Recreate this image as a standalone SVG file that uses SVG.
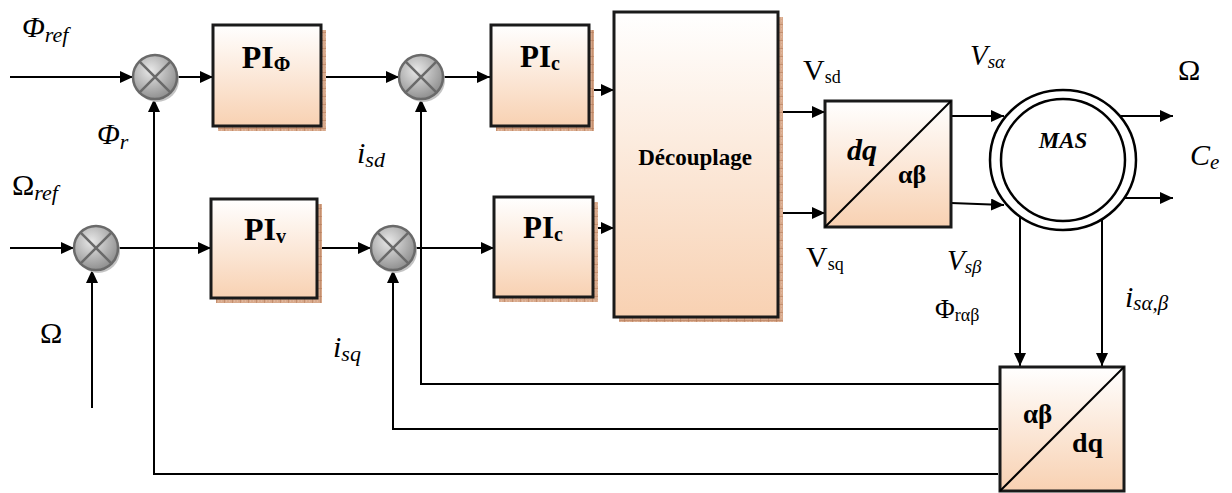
<svg xmlns="http://www.w3.org/2000/svg" width="1232" height="493" viewBox="0 0 1232 493">
<style>
.ln{fill:none;stroke:#000;stroke-width:2}
.bx{fill:url(#peach);stroke:#1a1a1a;stroke-width:3}
.sh{fill:url(#hatch)}
.t{font-family:"Liberation Serif","Times New Roman",serif;fill:#000}
.it{font-style:italic}
.b{font-weight:bold}
.sumc{fill:url(#gray);stroke:#6a6a6a;stroke-width:2.5}
.sumx{stroke:#6a6a6a;stroke-width:2.5}
.sums{fill:#c4c4c4}
</style>
<defs>
<linearGradient id="peach" x1="0" y1="0" x2="0" y2="1">
<stop offset="0" stop-color="#ffffff"/>
<stop offset="1" stop-color="#f8d1b2"/>
</linearGradient>
<radialGradient id="gray" cx="0.4" cy="0.35" r="0.7">
<stop offset="0" stop-color="#e8e8e8"/>
<stop offset="1" stop-color="#8a8a8a"/>
</radialGradient>
<pattern id="hatch" width="8" height="8" patternUnits="userSpaceOnUse">
<rect width="8" height="8" fill="#d8a98b"/>
<path d="M0,0 H8 M0,0 V8" stroke="#b07654" stroke-width="1"/>
<path d="M2,2 h1 M5,5 h1 M2,5 h1 M5,2 h1" stroke="#e8c4ad" stroke-width="1"/>
</pattern>
<marker id="ar" markerUnits="userSpaceOnUse" markerWidth="14" markerHeight="12" refX="13" refY="6" orient="auto">
<path d="M0,0 L13,6 L0,12 z" fill="#000"/>
</marker>
</defs>

<g id="connectors">
<path class="ln" d="M10,77 H133" marker-end="url(#ar)"/>
<path class="ln" d="M177,77 H213" marker-end="url(#ar)"/>
<path class="ln" d="M321,77 H399" marker-end="url(#ar)"/>
<path class="ln" d="M443,77 H490" marker-end="url(#ar)"/>
<path class="ln" d="M589,90 H614" marker-end="url(#ar)"/>
<path class="ln" d="M593,228 H614" marker-end="url(#ar)"/>
<path class="ln" d="M10,248 H74" marker-end="url(#ar)"/>
<path class="ln" d="M118,248 H211" marker-end="url(#ar)"/>
<path class="ln" d="M317,248 H371" marker-end="url(#ar)"/>
<path class="ln" d="M415,248 H494" marker-end="url(#ar)"/>
<path class="ln" d="M92,408 V270" marker-end="url(#ar)"/>
<path class="ln" d="M998,474 H154 V99" marker-end="url(#ar)"/>
<path class="ln" d="M998,429 H393 V270" marker-end="url(#ar)"/>
<path class="ln" d="M1000,384 H421 V99" marker-end="url(#ar)"/>
<path class="ln" d="M778,112 H825" marker-end="url(#ar)"/>
<path class="ln" d="M778,213 H825" marker-end="url(#ar)"/>
<path class="ln" d="M951,116 H1004" marker-end="url(#ar)"/>
<path class="ln" d="M951,203 L1004,205" marker-end="url(#ar)"/>
<path class="ln" d="M1121,116 H1173" marker-end="url(#ar)"/>
<path class="ln" d="M1123,198 H1173" marker-end="url(#ar)"/>
<path class="ln" d="M1020,217 V366" marker-end="url(#ar)"/>
<path class="ln" d="M1102,217 V366" marker-end="url(#ar)"/>
</g>

<g id="sum1">
<circle class="sums" cx="157" cy="80" r="22"/>
<circle class="sumc" cx="155" cy="77" r="22"/>
<path class="sumx" d="M139.4,61.4 L170.6,92.6 M170.6,61.4 L139.4,92.6"/>
</g>
<g id="sum2">
<circle class="sums" cx="98" cy="251" r="22"/>
<circle class="sumc" cx="96" cy="248" r="22"/>
<path class="sumx" d="M80.4,232.4 L111.6,263.6 M111.6,232.4 L80.4,263.6"/>
</g>
<g id="sum3">
<circle class="sums" cx="423" cy="80" r="22"/>
<circle class="sumc" cx="421" cy="77" r="22"/>
<path class="sumx" d="M405.4,61.4 L436.6,92.6 M436.6,61.4 L405.4,92.6"/>
</g>
<g id="sum4">
<circle class="sums" cx="395" cy="251" r="22"/>
<circle class="sumc" cx="393" cy="248" r="22"/>
<path class="sumx" d="M377.4,232.4 L408.6,263.6 M408.6,232.4 L377.4,263.6"/>
</g>

<g id="pi_phi">
<rect class="sh" x="218" y="30" width="108" height="101"/>
<rect class="bx" x="213" y="25" width="108" height="101"/>
<text class="t b" x="266" y="68" text-anchor="middle" font-size="32">PI<tspan font-size="20" dy="3">Φ</tspan></text>
</g>
<g id="pi_v">
<rect class="sh" x="216" y="204" width="106" height="99"/>
<rect class="bx" x="211" y="199" width="106" height="99"/>
<text class="t b" x="265" y="240" text-anchor="middle" font-size="32">PI<tspan font-size="20" dy="3">v</tspan></text>
</g>
<g id="pi_c1">
<rect class="sh" x="496" y="30" width="98" height="101"/>
<rect class="bx" x="491" y="25" width="98" height="101"/>
<text class="t b" x="540" y="67" text-anchor="middle" font-size="31">PI<tspan font-size="20" dy="3">c</tspan></text>
</g>
<g id="pi_c2">
<rect class="sh" x="499" y="202" width="99" height="100"/>
<rect class="bx" x="494" y="197" width="99" height="100"/>
<text class="t b" x="543" y="238" text-anchor="middle" font-size="31">PI<tspan font-size="20" dy="3">c</tspan></text>
</g>
<g id="decouplage">
<rect class="sh" x="619" y="17" width="164" height="305"/>
<rect class="bx" x="614" y="12" width="164" height="305"/>
<text class="t b" x="695" y="165" text-anchor="middle" font-size="23">Découplage</text>
</g>
<g id="dq_ab">
<rect class="bx" x="825" y="101" width="126" height="126"/>
<path class="ln" d="M825,227 L951,101" stroke-width="2.5"/>
<text class="t b it" x="847" y="160" font-size="30">dq</text>
<text class="t b" x="898" y="183" font-size="26">αβ</text>
</g>
<g id="mas">
<ellipse cx="1063" cy="160" rx="73" ry="70" fill="#fff" stroke="#000" stroke-width="2.5"/>
<ellipse cx="1063" cy="160" rx="62" ry="61" fill="#fff" stroke="#000" stroke-width="2.5"/>
<text class="t b it" x="1063" y="148" text-anchor="middle" font-size="23">MAS</text>
</g>
<g id="ab_dq">
<rect class="bx" x="1000" y="367" width="124" height="124"/>
<path class="ln" d="M1000,491 L1124,367" stroke-width="2.5"/>
<text class="t b" x="1023" y="423" font-size="27">αβ</text>
<text class="t b" x="1072" y="452" font-size="28">dq</text>
</g>

<g id="labels">
<text class="t it" x="22" y="37" font-size="30">Φ<tspan font-size="22" dy="5">ref</tspan></text>
<text class="t it" x="97" y="144" font-size="30">Φ<tspan font-size="22" dy="5">r</tspan></text>
<text class="t" x="12" y="195" font-size="30">Ω<tspan class="it" font-size="22" dy="5">ref</tspan></text>
<text class="t" x="40" y="343" font-size="30">Ω</text>
<text class="t it" x="357" y="163" font-size="30">i<tspan font-size="22" dy="4">sd</tspan></text>
<text class="t it" x="333" y="357" font-size="30">i<tspan font-size="22" dy="4">sq</tspan></text>
<text class="t" x="803" y="80" font-size="30">V<tspan font-size="18" dy="3">sd</tspan></text>
<text class="t" x="806" y="267" font-size="30">V<tspan font-size="18" dy="3">sq</tspan></text>
<text class="t it" x="970" y="65" font-size="29">V<tspan font-size="19" dy="3">sα</tspan></text>
<text class="t it" x="947" y="270" font-size="29">V<tspan font-size="19" dy="3">sβ</tspan></text>
<text class="t" x="935" y="318" font-size="27">Φ<tspan font-size="18" dy="3">rαβ</tspan></text>
<text class="t it" x="1125" y="307" font-size="30">i<tspan font-size="21" dy="3">sα,β</tspan></text>
<text class="t" x="1178" y="80" font-size="30">Ω</text>
<text class="t it" x="1190" y="165" font-size="30">C<tspan font-size="21" dy="4">e</tspan></text>
</g>
</svg>
